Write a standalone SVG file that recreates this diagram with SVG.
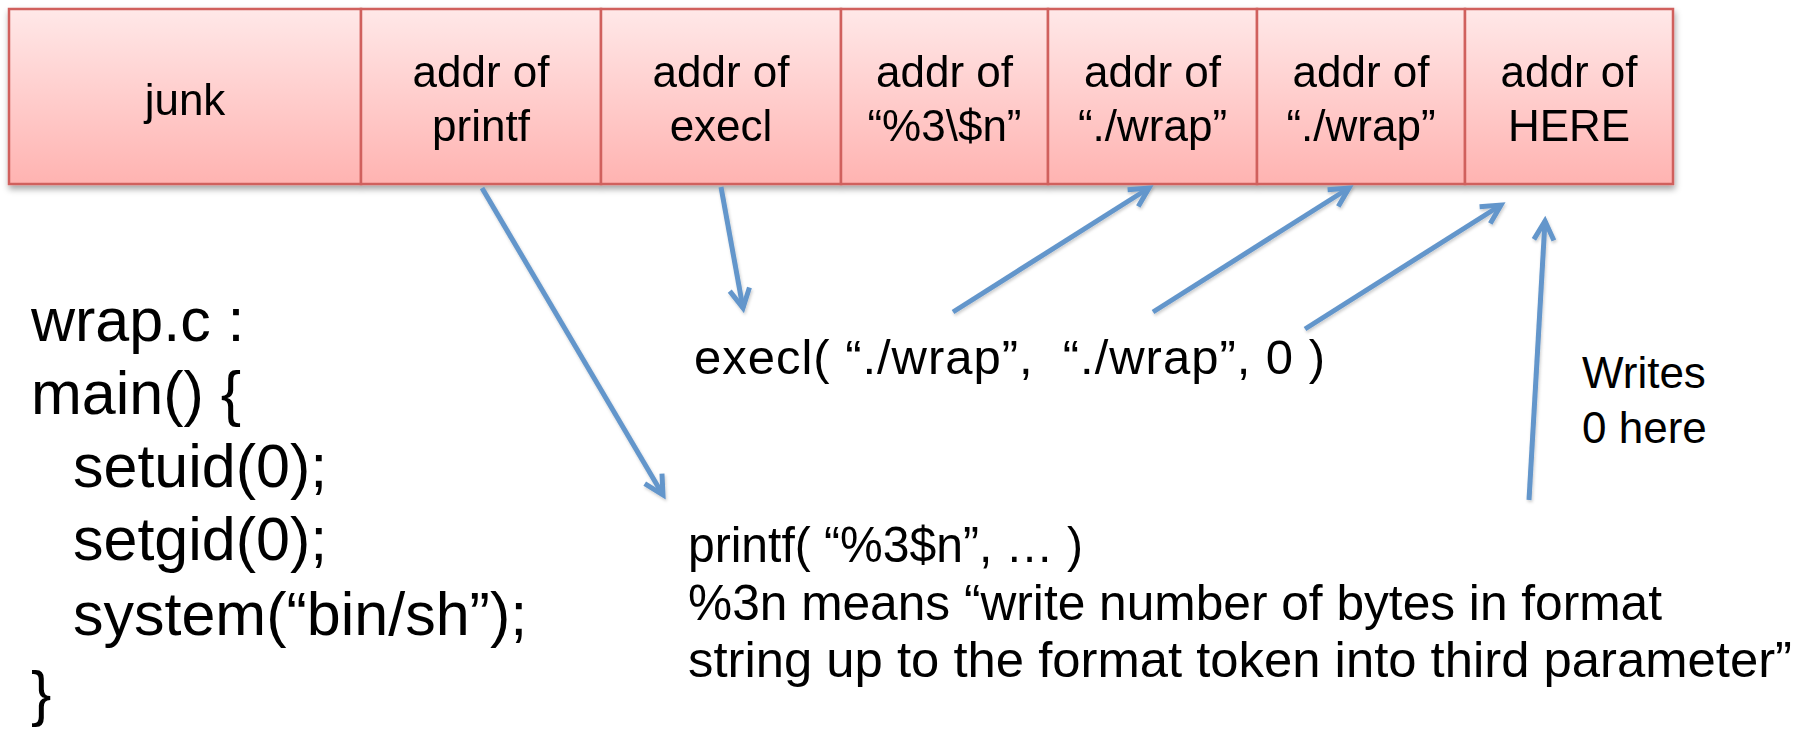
<svg xmlns="http://www.w3.org/2000/svg" width="1806" height="730" viewBox="0 0 1806 730">
<defs>
<linearGradient id="boxfill" x1="0" y1="0" x2="0" y2="1">
<stop offset="0" stop-color="#FFE8E8"/>
<stop offset="1" stop-color="#FFB3B1"/>
</linearGradient>
<filter id="shadow" x="-5%" y="-10%" width="110%" height="130%">
<feDropShadow dx="1" dy="4" stdDeviation="3" flood-color="#000" flood-opacity="0.35"/>
</filter>
<filter id="ashadow" x="-20%" y="-20%" width="140%" height="140%">
<feDropShadow dx="1" dy="2" stdDeviation="1.5" flood-color="#000" flood-opacity="0.2"/>
</filter>
<marker id="head" markerUnits="userSpaceOnUse" markerWidth="40" markerHeight="40" viewBox="-30 -20 40 40" refX="0" refY="0" orient="auto">
<path d="M -19 -10 L 0 0 L -19 10" fill="none" stroke="#6496CB" stroke-width="5" stroke-linejoin="miter" stroke-linecap="butt"/>
</marker>
</defs>
<style>
.box { fill: url(#boxfill); stroke: #D0605D; stroke-width: 2.5; }
.bt { font-family: "Liberation Sans", Arial, sans-serif; font-size: 44px; fill: #000; text-anchor: middle; }
.code { font-family: "Liberation Sans", Arial, sans-serif; font-size: 61px; fill: #000; white-space: pre; }
.lbl { font-family: "Liberation Sans", Arial, sans-serif; font-size: 49px; fill: #000; white-space: pre; }
.fmt { font-family: "Liberation Sans", Arial, sans-serif; font-size: 50px; fill: #000; white-space: pre; }
.note { font-family: "Liberation Sans", Arial, sans-serif; font-size: 44px; fill: #000; }
.arrow { stroke: #6496CB; stroke-width: 5; fill: none; marker-end: url(#head); }
</style>
<rect x="0" y="0" width="1806" height="730" fill="#FFFFFF"/>

<g id="memory" filter="url(#shadow)">
<g id="box-junk">
<rect class="box" x="9" y="9" width="352" height="175"/>
<text class="bt" x="185" y="115">junk</text>
</g>
<g id="box-printf">
<rect class="box" x="361" y="9" width="240" height="175"/>
<text class="bt" x="481" y="87">addr of</text>
<text class="bt" x="481" y="141">printf</text>
</g>
<g id="box-execl">
<rect class="box" x="601" y="9" width="240" height="175"/>
<text class="bt" x="721" y="87">addr of</text>
<text class="bt" x="721" y="141">execl</text>
</g>
<g id="box-fmt">
<rect class="box" x="841" y="9" width="207" height="175"/>
<text class="bt" x="944.5" y="87">addr of</text>
<text class="bt" x="944.5" y="141">“%3\$n”</text>
</g>
<g id="box-wrap1">
<rect class="box" x="1048" y="9" width="209" height="175"/>
<text class="bt" x="1152.5" y="87">addr of</text>
<text class="bt" x="1152.5" y="141">“./wrap”</text>
</g>
<g id="box-wrap2">
<rect class="box" x="1257" y="9" width="208" height="175"/>
<text class="bt" x="1361" y="87">addr of</text>
<text class="bt" x="1361" y="141">“./wrap”</text>
</g>
<g id="box-here">
<rect class="box" x="1465" y="9" width="208" height="175"/>
<text class="bt" x="1569" y="87">addr of</text>
<text class="bt" x="1569" y="141">HERE</text>
</g>
</g>

<g id="wrap-code">
<text class="code" x="31" y="341">wrap.c :</text>
<text class="code" x="31" y="414">main() {</text>
<text class="code" x="73" y="487">setuid(0);</text>
<text class="code" x="73" y="560">setgid(0);</text>
<text class="code" x="73" y="635">system(“bin/sh”);</text>
<text class="code" x="31" y="714">}</text>
</g>

<g id="execl-call">
<text class="lbl" x="694" y="374" textLength="631" lengthAdjust="spacing">execl( “./wrap”,  “./wrap”, 0 )</text>
</g>

<g id="printf-call">
<text class="fmt" x="688" y="562" textLength="395" lengthAdjust="spacingAndGlyphs">printf( “%3$n”, … )</text>
<text class="fmt" x="688" y="620" textLength="974" lengthAdjust="spacingAndGlyphs">%3n means “write number of bytes in format</text>
<text class="fmt" x="688" y="677" textLength="1104" lengthAdjust="spacingAndGlyphs">string up to the format token into third parameter”</text>
</g>

<g id="writes-note">
<text class="note" x="1582" y="388">Writes</text>
<text class="note" x="1582" y="443">0 here</text>
</g>

<g id="connectors" filter="url(#ashadow)">
<line class="arrow" x1="482" y1="188" x2="663" y2="495"/>
<line class="arrow" x1="721" y1="187" x2="743" y2="308"/>
<line class="arrow" x1="953" y1="312" x2="1149" y2="188"/>
<line class="arrow" x1="1153" y1="312" x2="1349" y2="188"/>
<line class="arrow" x1="1305" y1="329" x2="1501" y2="205"/>
<line class="arrow" x1="1529" y1="500" x2="1545" y2="221"/>
</g>
</svg>
